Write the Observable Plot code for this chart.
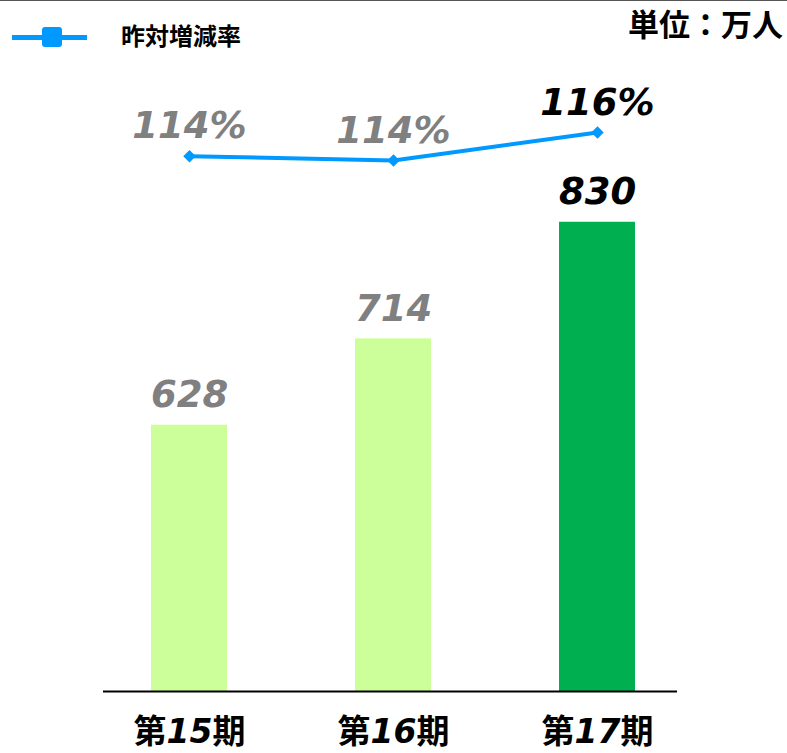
<!DOCTYPE html>
<html>
<head>
<meta charset="utf-8">
<script src="https://cdn.jsdelivr.net/npm/d3@7"></script>
<script src="https://cdn.jsdelivr.net/npm/@observablehq/plot@0.6"></script>
<style>
  html, body { margin: 0; padding: 0; background: #fff; }
  #wrap { position: relative; width: 787px; height: 753px; border-top: 1px solid #555; box-sizing: border-box; overflow: hidden; }
  #wrap svg { position: absolute; left: 0; top: 0; }
  .legend { position: absolute; left: 12px; top: 24px; height: 24px; width: 300px; font-family: "Noto Sans CJK JP", sans-serif; font-weight: bold; font-size: 24px; }
  .legend .ln { position: absolute; left: 0; top: 10px; width: 75px; height: 5px; background: #0099FF; }
  .legend .sq { position: absolute; left: 30px; top: 2px; width: 20px; height: 20px; background: #0099FF; border-radius: 3px; }
  .legend .tx { position: absolute; left: 109px; top: -7px; line-height: 34px; color: #000; white-space: nowrap; }
  .unit { position: absolute; right: 4px; top: 2px; font-family: "Noto Sans CJK JP", sans-serif; font-weight: bold; font-size: 31px; line-height: 40px; color: #000; white-space: nowrap; }
</style>
</head>
<body>
<div id="wrap">
</div>
<script>
const categories = ["第15期", "第16期", "第17期"];
const visitors = [628, 714, 830];
const visitorLabels = ["628", "714", "830"];
const growth = [114.1, 113.7, 116.3];
const growthLabels = ["114%", "114%", "116%"];
const barColors = ["#CCFF99", "#CCFF99", "#00B050"];
const labelColors = ["#808080", "#808080", "#000000"];
const legendLabel = "昨対増減率";
const unitLabel = "単位：万人";

const data = categories.map((c, i) => ({
  cat: c, value: visitors[i], vlabel: visitorLabels[i],
  growth: growth[i], glabel: growthLabels[i],
  fill: barColors[i], lcolor: labelColors[i]
}));

const W = 787, H = 753;
const xOpts = { type: "band", domain: categories, paddingInner: 0.628, paddingOuter: 0.2175 };
const numFont = { fontFamily: "DejaVu Sans", fontWeight: "bold", fontStyle: "italic", fontSize: 37 };

const bars = Plot.plot({
  width: W, height: H,
  marginLeft: 106, marginRight: 107, marginTop: 60, marginBottom: 63,
  style: { background: "transparent", fontFamily: "DejaVu Sans, Noto Sans CJK JP" },
  x: { ...xOpts, label: null },
  y: { domain: [363, 990], clamp: true, axis: null },
  color: { type: "identity" },
  marks: [
    Plot.barY(data, { x: "cat", y: "value", fill: "fill" }),
    Plot.ruleY([363], { stroke: "#000", strokeWidth: 2, insetLeft: -3, insetRight: 3 }),
    Plot.text(data, { x: "cat", y: "value", text: "vlabel", fill: "lcolor", lineAnchor: "bottom", dy: -18, ...numFont }),
    Plot.axisX({ tickSize: 0, tickPadding: 28, fontSize: 33, fontWeight: "bold", fill: "#000", label: null })
  ]
});

const line = Plot.plot({
  width: W, height: H,
  marginLeft: 106, marginRight: 107, marginTop: 131, marginBottom: H - 159,
  style: { background: "transparent", overflow: "visible", fontFamily: "DejaVu Sans" },
  x: { ...xOpts, axis: null },
  y: { domain: [113.7, 116.3], axis: null },
  color: { type: "identity" },
  marks: [
    Plot.line(data, { x: "cat", y: "growth", stroke: "#0099FF", strokeWidth: 4 }),
    Plot.dot(data, { x: "cat", y: "growth", symbol: "diamond2", r: 5.6, fill: "#0099FF", stroke: "none" }),
    Plot.text(data, { x: "cat", y: "growth", text: "glabel", fill: "lcolor", lineAnchor: "bottom", dy: -18, ...numFont })
  ]
});

const wrap = document.getElementById("wrap");
wrap.appendChild(bars);
wrap.appendChild(line);

// split axis labels: CJK upright, digits italic
bars.querySelectorAll('g[aria-label="x-axis tick label"] text').forEach(t => {
  const s = t.textContent;
  t.textContent = "";
  const parts = s.match(/(\d+|\D+)/g) || [];
  parts.forEach(p => {
    const ts = document.createElementNS("http://www.w3.org/2000/svg", "tspan");
    ts.textContent = p;
    if (/\d/.test(p)) {
      ts.setAttribute("font-style", "italic");
      ts.setAttribute("font-family", "DejaVu Sans");
    } else {
      ts.setAttribute("font-style", "normal");
      ts.setAttribute("font-family", "Noto Sans CJK JP");
    }
    t.appendChild(ts);
  });
});

const legend = document.createElement("div");
legend.className = "legend";
legend.innerHTML = '<div class="ln"></div><div class="sq"></div>';
const lt = document.createElement("div");
lt.className = "tx";
lt.textContent = legendLabel;
legend.appendChild(lt);
wrap.appendChild(legend);

const unit = document.createElement("div");
unit.className = "unit";
unit.textContent = unitLabel;
wrap.appendChild(unit);
</script>
</body>
</html>
